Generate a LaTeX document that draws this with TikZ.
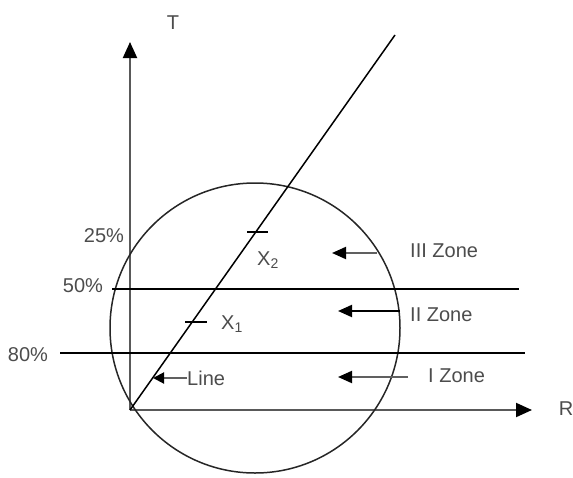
\documentclass[tikz,border=0pt]{standalone}
\usepackage{fontspec}
\setmainfont{Liberation Sans}
\usetikzlibrary{arrows.meta}
\tikzset{
  axisarr/.style  = {-{Triangle[length=16pt,width=14pt,color=black]},gray!70!black,line width=2pt},
  zonearr/.style  = {-{Triangle[length=14pt,width=12pt,color=black]},gray!75!black,line width=2pt},
  zoneline/.style = {black,line width=2pt},
  tickmark/.style = {black,line width=1.6pt},
  lbl/.style      = {font=\fontsize{20}{22}\selectfont,text=black!70,inner sep=0pt}
}

\begin{document}
\begin{tikzpicture}[x=1pt,y=-1pt]
  \useasboundingbox (0,0) rectangle (573,477);
  % axes
  \coordinate (O) at (130,410);
  \coordinate (Ttip) at (130,42);
  \coordinate (Rtip) at (532,410);
  \draw[axisarr] (O) -- (Ttip);
  \draw[axisarr] (O) -- (Rtip);
  \node[lbl] (T) at (173,23) {T};
  \node[lbl] (R) at (566,409) {R};
  % circle and line
  \draw[gray!30!black,line width=1.5pt] (255,328) circle[radius=145pt];
  \coordinate (Ltop) at (395,35);
  \draw[black,line width=1.5pt] (O) -- (Ltop);
  % zone borders
  \coordinate (b50a) at (112,289);
  \coordinate (b50b) at (519,289);
  \coordinate (b80a) at (60,353);
  \coordinate (b80b) at (525,353);
  \draw[zoneline] (b50a) -- (b50b);
  \draw[zoneline] (b80a) -- (b80b);
  \node[lbl] (p25) at (104,236) {25\%};
  \node[lbl] (p50) at (83,286) {50\%};
  \node[lbl] (p80) at (28,355) {80\%};
  % points on the line
  \coordinate (x2a) at (247,232); \coordinate (x2b) at (268,232);
  \coordinate (x1a) at (185,322); \coordinate (x1b) at (207,322);
  \draw[tickmark] (x2a) -- (x2b);
  \draw[tickmark] (x1a) -- (x1b);
  \node[lbl] (X2) at (268,260) {X\textsubscript{2}};
  \node[lbl] (X1) at (232,324) {X\textsubscript{1}};
  % labels with arrows
  \node[lbl,anchor=west] (lineL) at (187,378) {Line};
  \coordinate (lineP) at (153,378);
  \draw[zonearr,-{Triangle[length=11pt,width=11pt,color=black]}] (lineL.west) -- (lineP);
  \node[lbl,anchor=west] (z3) at (410,251) {III Zone};
  \node[lbl,anchor=west] (z2) at (410,315) {II Zone};
  \node[lbl,anchor=west] (z1) at (428,376) {I Zone};
  \coordinate (z3s) at (377,253); \coordinate (z3e) at (332,253);
  \coordinate (z2s) at (400,311); \coordinate (z2e) at (338,311);
  \coordinate (z1s) at (408,377); \coordinate (z1e) at (338,377);
  \draw[zonearr] (z3s) -- (z3e);
  \draw[zonearr,black] (z2s) -- (z2e);
  \draw[zonearr] (z1s) -- (z1e);
\end{tikzpicture}
\end{document}
